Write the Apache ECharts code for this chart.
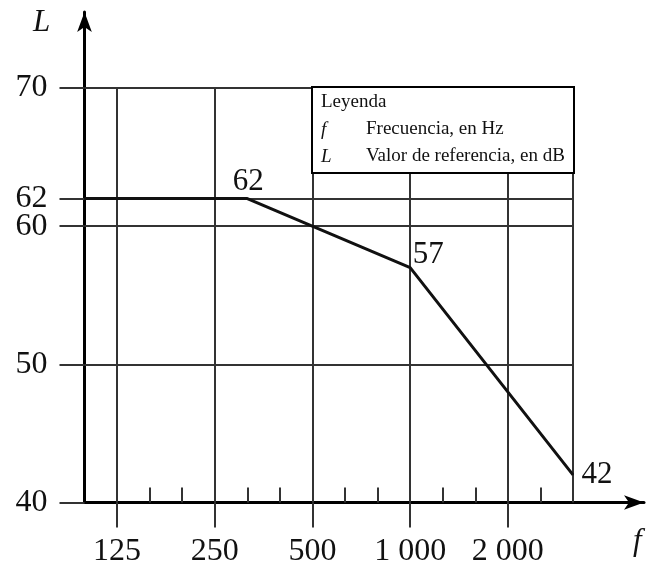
<!DOCTYPE html>
<html>
<head>
<meta charset="utf-8">
<script src="https://cdn.jsdelivr.net/npm/echarts@6/dist/echarts.min.js"></script>
<style>
    html, body { margin: 0; padding: 0; background: #fff; }
    #chart { width: 646px; height: 565px; }
</style>
</head>
<body>
<div id="chart"></div>
<script>
// third-octave bands, 100 Hz .. 3150 Hz, drawn as equal steps on the x axis
const bands = [100, 125, 160, 200, 250, 315, 400, 500, 630, 800, 1000, 1250, 1600, 2000, 2500, 3150]
const majorFreqs = [125, 250, 500, 1000, 2000]
const majorLabels = ['125', '250', '500', '1 000', '2 000']
const minorFreqs = [160, 200, 315, 400, 630, 800, 1250, 1600, 2500]
const gridFreqs = [125, 250, 500, 1000, 2000, 3150]

// reference curve
const curveFreqs = [100, 315, 1000, 3150]
const curveLevels = [62, 62, 57, 42]
const curveLabels = ['', '62', '57', '42']

const yTicks = [40, 50, 60, 62, 70]
const yGridLines = [50, 60, 62, 70]

const FONT = '"Liberation Serif", "DejaVu Serif", serif'
const GRID_COLOR = '#333'
const idx = f => bands.indexOf(f)

const xMin = 0
const xEnd = bands.length - 1
const yMin = 40
const yTop = 70

const chart = echarts.init(document.getElementById('chart'))

const labelPos = [
    {},
    { position: 'top', distance: 1, offset: [1, 0] },
    { position: 'right', distance: 2, offset: [0, -13] },
    { position: 'right', distance: 8, offset: [0, 0] },
]

const gridMarks = [
    ...yGridLines.map(v => [{ coord: [xMin, v] }, { coord: [xEnd, v] }]),
    ...gridFreqs.map(f => [{ coord: [idx(f), yMin] }, { coord: [idx(f), yTop] }]),
]

const legendText = (text, x, y, italic) => ({
    type: 'text',
    x, y, z: 101,
    style: { text, font: (italic ? 'italic ' : '') + '19px ' + FONT, fill: '#111' },
})

chart.setOption({
    animation: false,
    grid: {
        left: 84.5,
        right: 2,
        top: 12,
        bottom: 62.5,
        outerBoundsMode: 'none',
    },
    xAxis: [
        {
            type: 'value',
            min: xMin,
            max: 17.18,
            axisLine: {
                show: true,
                symbol: ['none', 'arrow'],
                symbolSize: [11, 20],
                lineStyle: { color: '#000', width: 3 },
            },
            axisTick: {
                show: true,
                inside: true,
                length: 15,
                customValues: minorFreqs.map(idx),
                lineStyle: { color: GRID_COLOR, width: 2 },
            },
            axisLabel: { show: false },
            splitLine: { show: false },
        },
        {
            type: 'value',
            min: xMin,
            max: 17.18,
            position: 'bottom',
            axisLine: { show: false },
            axisTick: {
                show: true,
                length: 25,
                customValues: majorFreqs.map(idx),
                lineStyle: { color: GRID_COLOR, width: 2 },
            },
            axisLabel: {
                customValues: majorFreqs.map(idx),
                formatter: v => majorLabels[majorFreqs.map(idx).indexOf(v)] ?? '',
                color: '#111',
                fontFamily: FONT,
                fontSize: 32,
                margin: 33,
            },
            splitLine: { show: false },
        },
    ],
    yAxis: {
        type: 'value',
        min: yMin,
        max: 75.5,
        axisLine: {
            show: true,
            symbol: ['none', 'arrow'],
            symbolSize: [11, 20],
            lineStyle: { color: '#000', width: 3 },
        },
        axisTick: {
            show: true,
            length: 25,
            customValues: yTicks,
            lineStyle: { color: GRID_COLOR, width: 2 },
        },
        axisLabel: {
            customValues: yTicks,
            color: '#111',
            fontFamily: FONT,
            fontSize: 32,
            margin: 37,
        },
        splitLine: { show: false },
    },
    graphic: [
        {
            type: 'text',
            left: 33,
            top: 7,
            style: { text: 'L', font: 'italic 31px ' + FONT, fill: '#111' },
        },
        {
            type: 'text',
            left: 633,
            top: 526,
            style: { text: 'f', font: 'italic 31px ' + FONT, fill: '#111' },
        },
        {
            type: 'group',
            left: 311,
            top: 86,
            z: 100,
            children: [
                {
                    type: 'rect',
                    z: 100,
                    shape: { x: 0, y: 0, width: 262, height: 86 },
                    style: { fill: '#fff', stroke: '#000', lineWidth: 2 },
                },
                legendText('Leyenda', 9, 6),
                legendText('f', 9, 33, true),
                legendText('Frecuencia, en Hz', 54, 33),
                legendText('L', 9, 60, true),
                legendText('Valor de referencia, en dB', 54, 60),
            ],
        },
    ],
    series: [
        {
            type: 'line',
            xAxisIndex: 0,
            symbol: 'circle',
            symbolSize: 1,
            itemStyle: { color: '#111' },
            lineStyle: { color: '#111', width: 3 },
            data: curveFreqs.map((f, i) => ({
                value: [idx(f), curveLevels[i]],
                label: {
                    show: curveLabels[i] !== '',
                    formatter: curveLabels[i],
                    color: '#111',
                    fontFamily: FONT,
                    fontSize: 31,
                    ...labelPos[i],
                },
            })),
            markLine: {
                silent: true,
                symbol: 'none',
                label: { show: false },
                lineStyle: { color: GRID_COLOR, width: 2, type: 'solid' },
                data: gridMarks,
                z: 1,
            },
            z: 3,
        },
    ],
})
</script>
</body>
</html>
